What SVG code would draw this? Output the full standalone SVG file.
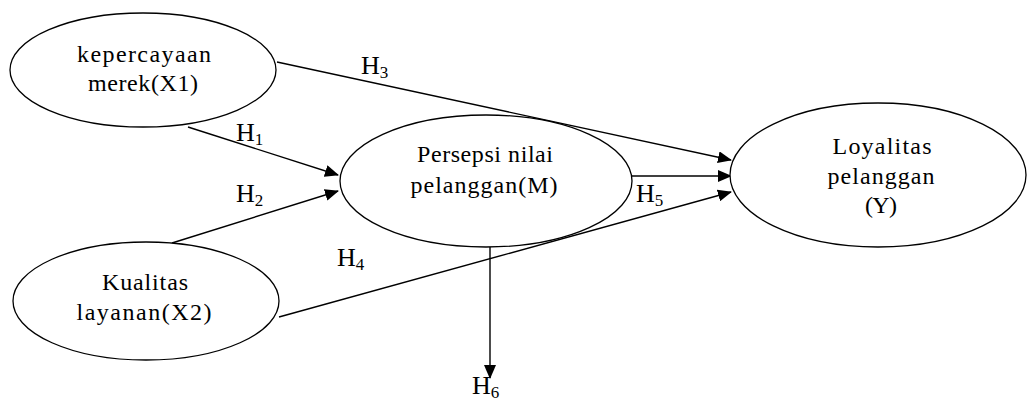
<svg xmlns="http://www.w3.org/2000/svg" width="1028" height="403" viewBox="0 0 1028 403">
  <style>
    .node ellipse { fill: #fff; stroke: #000; stroke-width: 1.3; }
    .node text { font-size: 24px; fill: #000; text-anchor: middle; }
    .edges line { stroke: #000; stroke-width: 1.4; marker-end: url(#arrow); }
    .lbl { font-size: 26px; fill: #000; }
    .lbl tspan.sub { font-size: 17px; }
  </style>
  <defs>
    <marker id="arrow" markerUnits="userSpaceOnUse" markerWidth="14" markerHeight="12" refX="13" refY="6" orient="auto">
      <path d="M0,0 L14,6 L0,12 Z" fill="#000"/>
    </marker>
  </defs>
  <rect width="1028" height="403" fill="#fff"/>

  <!-- connectors -->
  <g class="edges">
    <line id="e-h1" x1="188" y1="127" x2="338" y2="175"/>
    <line id="e-h2" x1="172" y1="243" x2="338" y2="191"/>
    <line id="e-h3" x1="277" y1="62" x2="731" y2="160"/>
    <line id="e-h5" x1="632" y1="176" x2="731" y2="176"/>
    <line id="e-h4" x1="279" y1="317" x2="731" y2="192"/>
    <line id="e-h6" x1="490" y1="247" x2="490" y2="378"/>
  </g>

  <!-- path labels -->
  <g id="labels" font-family="Liberation Serif, Times New Roman, serif">
    <text class="lbl" x="236" y="141">H<tspan class="sub" dy="4">1</tspan></text>
    <text class="lbl" x="236" y="202">H<tspan class="sub" dy="4">2</tspan></text>
    <text class="lbl" x="361" y="74">H<tspan class="sub" dy="4">3</tspan></text>
    <text class="lbl" x="337" y="266">H<tspan class="sub" dy="4">4</tspan></text>
    <text class="lbl" x="636" y="202">H<tspan class="sub" dy="4">5</tspan></text>
    <text class="lbl" x="472" y="394">H<tspan class="sub" dy="4">6</tspan></text>
  </g>

  <!-- nodes -->
  <g id="node-x1" class="node" font-family="Liberation Serif, Times New Roman, serif">
    <ellipse cx="143" cy="70" rx="133" ry="57"/>
    <text x="144" y="62" textLength="134" lengthAdjust="spacing">kepercayaan</text>
    <text x="143" y="91" textLength="110" lengthAdjust="spacing">merek(X1)</text>
  </g>
  <g id="node-m" class="node" font-family="Liberation Serif, Times New Roman, serif">
    <ellipse cx="486" cy="181" rx="146" ry="66"/>
    <text x="485" y="162" textLength="136" lengthAdjust="spacing">Persepsi nilai</text>
    <text x="484" y="193" textLength="147" lengthAdjust="spacing">pelanggan(M)</text>
  </g>
  <g id="node-y" class="node" font-family="Liberation Serif, Times New Roman, serif">
    <ellipse cx="878" cy="175" rx="148" ry="72"/>
    <text x="882" y="154" textLength="99" lengthAdjust="spacing">Loyalitas</text>
    <text x="881" y="184" textLength="107" lengthAdjust="spacing">pelanggan</text>
    <text x="881" y="213" textLength="32" lengthAdjust="spacing">(Y)</text>
  </g>
  <g id="node-x2" class="node" font-family="Liberation Serif, Times New Roman, serif">
    <ellipse cx="146" cy="301" rx="133" ry="59"/>
    <text x="145" y="290" textLength="86" lengthAdjust="spacing">Kualitas</text>
    <text x="144" y="320" textLength="135" lengthAdjust="spacing">layanan(X2)</text>
  </g>
</svg>
